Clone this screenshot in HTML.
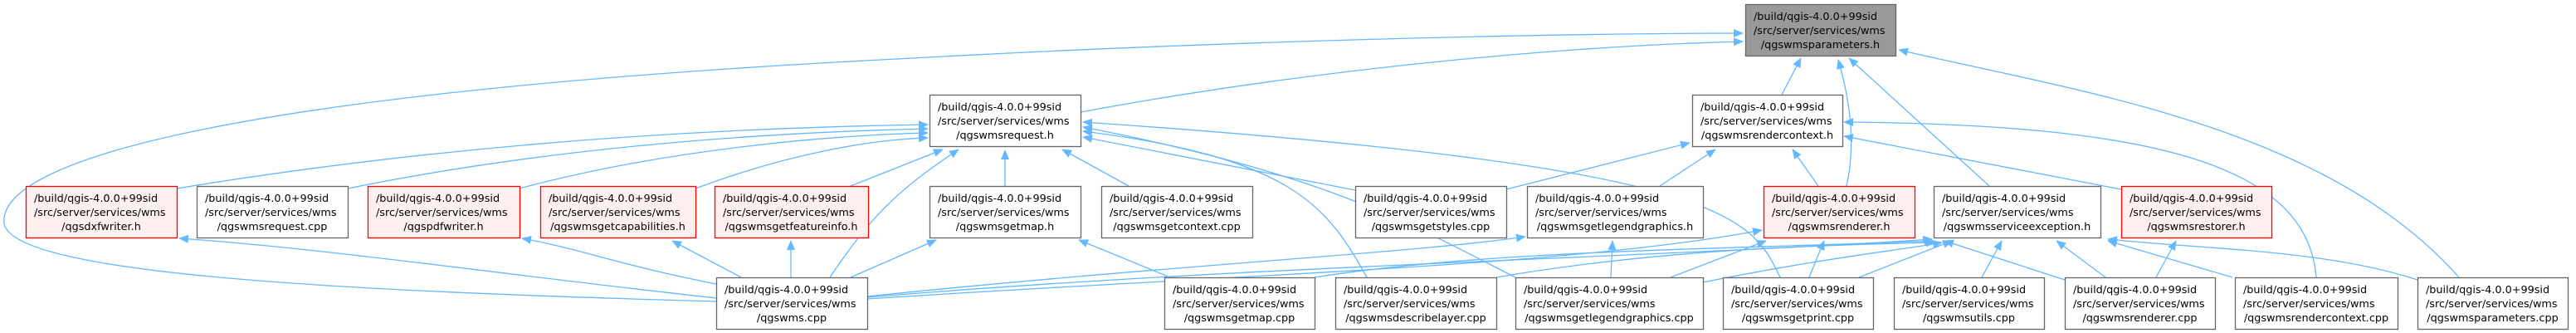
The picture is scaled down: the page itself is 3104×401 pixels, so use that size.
<!DOCTYPE html>
<html><head><meta charset="utf-8"><style>
html,body{margin:0;padding:0;background:#fff;}
svg{display:block;}
text{font-family:"DejaVu Sans","Liberation Sans",sans-serif;font-size:12.8px;fill:#000;}
.e{fill:none;stroke:#63b8ff;stroke-width:1.3;}
</style></head><body>
<svg width="3104" height="401" viewBox="0 0 3104 401" xmlns="http://www.w3.org/2000/svg">
<defs>
<marker id="a" markerWidth="12" markerHeight="10" refX="11" refY="5" orient="auto" markerUnits="userSpaceOnUse">
<path d="M0,0 L12,5 L0,10 Z" fill="#63b8ff"/>
</marker>
</defs>
<g marker-end="url(#a)">
<path class="e" d="M1302,135 C1600,80 1900,55 2100,50"/>
<path class="e" d="M863,363 C400,350 20,330 5,270 C-5,190 300,110 1100,70 C1500,48 1900,40 2100,40"/>
<path class="e" d="M2147,114 L2170,70"/>
<path class="e" d="M2225,224 C2235,180 2232,130 2215,72"/>
<path class="e" d="M2397,224 L2228,70"/>
<path class="e" d="M2963,334 C2800,150 2500,110 2288,60"/>
<path class="e" d="M213,227 C500,180 800,155 1118,150"/>
<path class="e" d="M419,227 C650,180 900,160 1118,155"/>
<path class="e" d="M626,227 C800,180 1000,163 1118,160"/>
<path class="e" d="M838,227 C950,185 1050,168 1118,166"/>
<path class="e" d="M1025,224 L1136,180"/>
<path class="e" d="M1000,334 C1050,260 1080,230 1155,180"/>
<path class="e" d="M1211,224 L1211,181"/>
<path class="e" d="M1360,224 L1280,180"/>
<path class="e" d="M1633,229 L1305,165"/>
<path class="e" d="M1647,334 C1600,250 1560,190 1305,158"/>
<path class="e" d="M1826,334 C1700,270 1600,210 1305,153"/>
<path class="e" d="M2145,334 C2110,260 2080,200 1305,147"/>
<path class="e" d="M1815,228 L2036,172"/>
<path class="e" d="M2000,224 L2067,180"/>
<path class="e" d="M2191,224 L2160,180"/>
<path class="e" d="M2556,228 L2222,164"/>
<path class="e" d="M2791,334 C2780,200 2600,150 2222,147"/>
<path class="e" d="M1045,360 C1500,330 1900,320 2123,277"/>
<path class="e" d="M2013,334 L2128,290"/>
<path class="e" d="M2180,334 L2198,290"/>
<path class="e" d="M1025,334 L1128,289"/>
<path class="e" d="M1410,334 L1300,289"/>
<path class="e" d="M1045,357 C1400,320 1700,305 1838,285"/>
<path class="e" d="M1941,334 L1943,290"/>
<path class="e" d="M863,359 C600,330 400,300 216,287"/>
<path class="e" d="M863,342 C750,320 700,300 629,287"/>
<path class="e" d="M893,334 L810,290"/>
<path class="e" d="M953,334 L953,290"/>
<path class="e" d="M1045,358 C1500,320 2000,310 2328,288"/>
<path class="e" d="M1584,334 C1800,300 2100,300 2330,290"/>
<path class="e" d="M1803,334 C2000,300 2200,295 2332,292"/>
<path class="e" d="M2052,340 C2200,310 2300,300 2340,292"/>
<path class="e" d="M2240,334 L2352,290"/>
<path class="e" d="M2388,334 L2412,290"/>
<path class="e" d="M2488,337 L2343,290"/>
<path class="e" d="M2537,334 L2478,290"/>
<path class="e" d="M2690,334 L2540,290"/>
<path class="e" d="M2913,337 C2800,300 2650,300 2540,288"/>
<path class="e" d="M2598,334 L2622,290"/>
</g>
<g id="nodes"></g>
</svg>
<script>
var N=[
[2103,5,181,"qgswmsparameters.h",2],
[1120,114,182,"qgswmsrequest.h",0],
[2039,114,181,"qgswmsrendercontext.h",0],
[31,224,182,"qgsdxfwriter.h",1],
[237,224,182,"qgswmsrequest.cpp",0],
[443,224,183,"qgspdfwriter.h",1],
[651,224,187,"qgswmsgetcapabilities.h",1],
[861,224,185,"qgswmsgetfeatureinfo.h",1],
[1120,224,182,"qgswmsgetmap.h",0],
[1327,224,182,"qgswmsgetcontext.cpp",0],
[1633,224,182,"qgswmsgetstyles.cpp",0],
[1840,224,212,"qgswmsgetlegendgraphics.h",0],
[2125,224,182,"qgswmsrenderer.h",1],
[2330,224,201,"qgswmsserviceexception.h",0],
[2556,224,181,"qgswmsrestorer.h",1],
[863,334,182,"qgswms.cpp",0],
[1403,334,181,"qgswmsgetmap.cpp",0],
[1609,334,194,"qgswmsdescribelayer.cpp",0],
[1826,334,226,"qgswmsgetlegendgraphics.cpp",0],
[2076,334,181,"qgswmsgetprint.cpp",0],
[2282,334,181,"qgswmsutils.cpp",0],
[2488,334,181,"qgswmsrenderer.cpp",0],
[2693,334,196,"qgswmsrendercontext.cpp",0],
[2913,334,181,"qgswmsparameters.cpp",0]];
var g=document.getElementById("nodes"),s="";
N.forEach(function(n){
var x=n[0],y=n[1],w=n[2],fill=n[4]==2?"#999999":n[4]==1?"#fff0f0":"#ffffff",st=n[4]==1?"#ff0000":"#666666";
s+='<rect x="'+(x+0.5)+'" y="'+(y+0.5)+'" width="'+w+'" height="62" fill="'+fill+'" stroke="'+st+'" stroke-width="1.3"/>';
s+='<text x="'+(x+10)+'" y="'+(y+19)+'">/build/qgis-4.0.0+99sid</text>';
s+='<text x="'+(x+10)+'" y="'+(y+36)+'">/src/server/services/wms</text>';
s+='<text x="'+(x+w/2)+'" y="'+(y+53)+'" text-anchor="middle">/'+n[3]+'</text>';
});
g.innerHTML=s;
</script>
</body></html>
